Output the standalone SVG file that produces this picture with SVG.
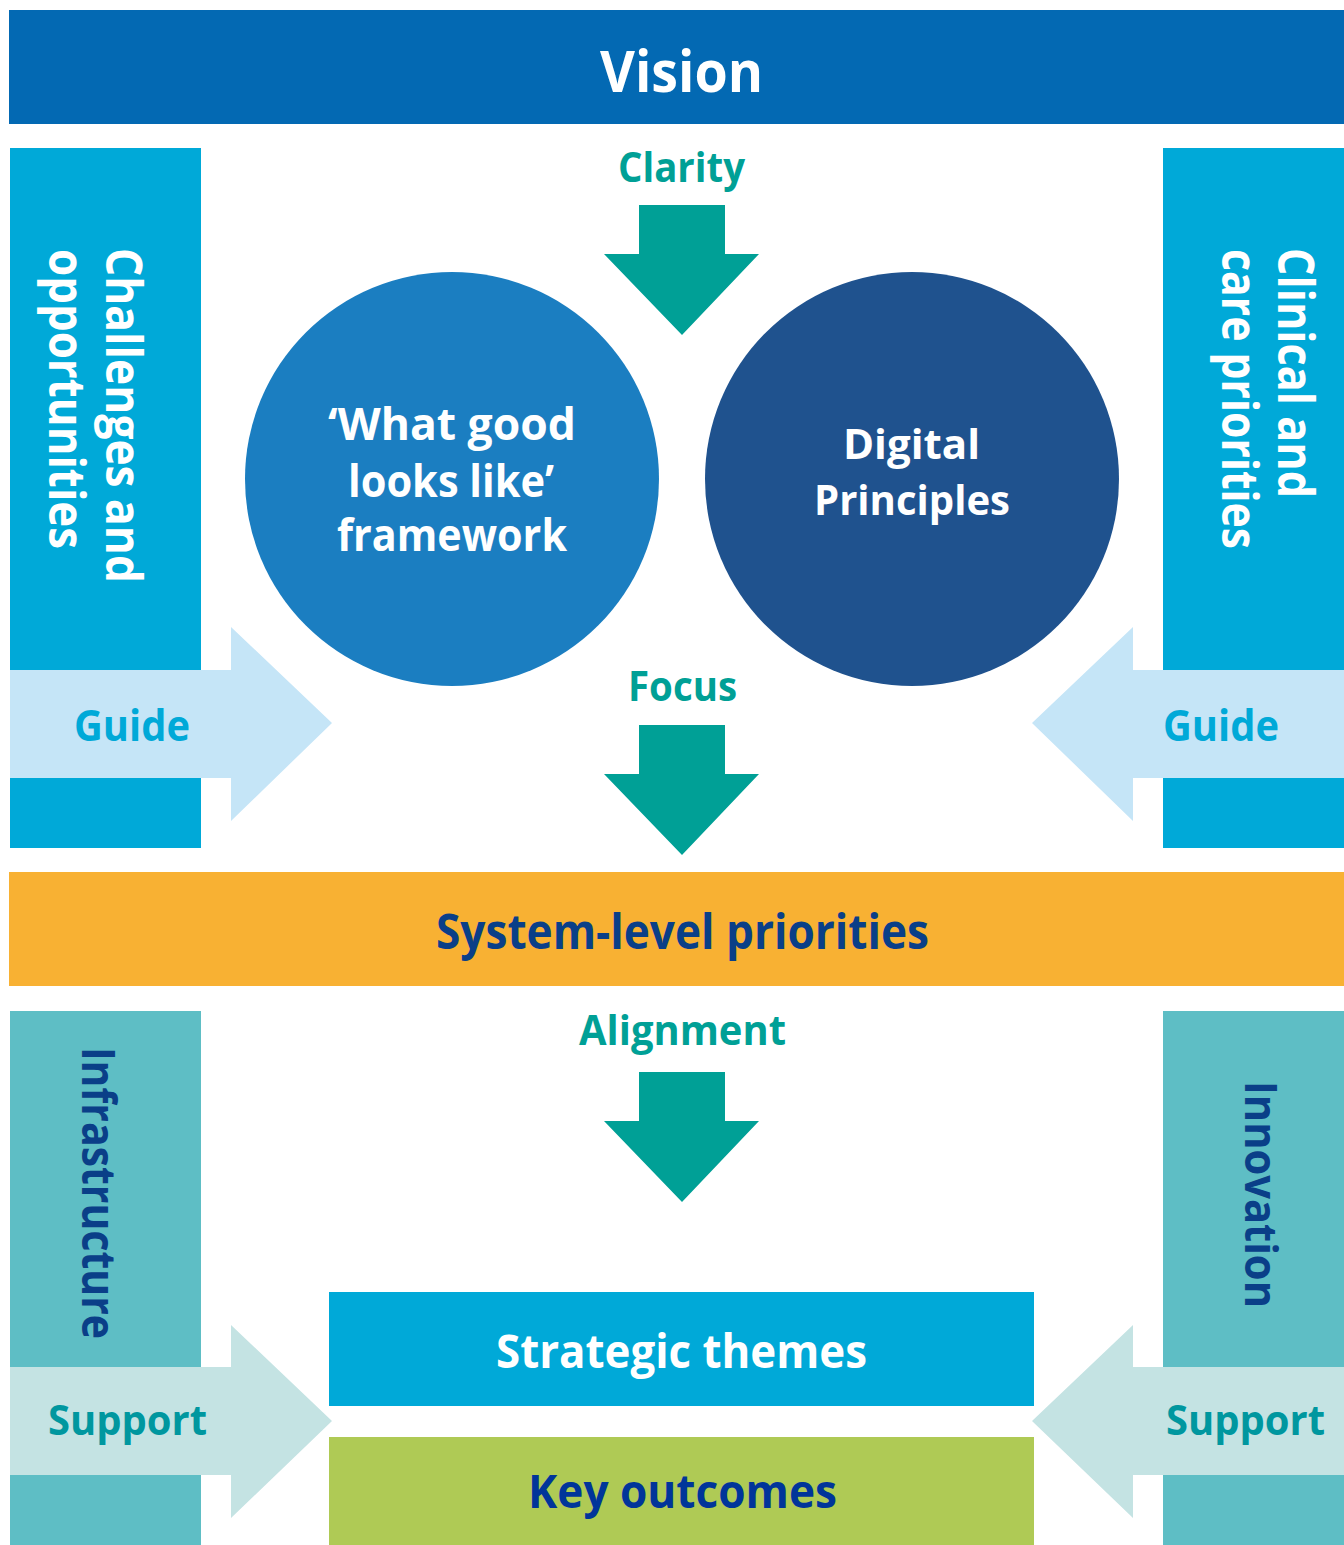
<svg xmlns="http://www.w3.org/2000/svg" width="1344" height="1545" viewBox="0 0 1344 1545">
<style>
text{font-family:"Open Sans","Noto Sans","Liberation Sans",sans-serif;font-weight:700}
.w{fill:#ffffff}
.teal{fill:#00a096}
.guide{fill:#00a9d8}
.sup{fill:#00979f}
.navy{fill:#0a3f88}
.colA{fill:#00a9d8}
.colB{fill:#5ebec5}
.arrG{fill:#c5e5f7}
.arrS{fill:#c4e3e3}
.down{fill:#00a096}
</style>
<rect width="1344" height="1545" fill="#ffffff"/>

<g id="vision">
<rect x="9" y="10" width="1335" height="114" fill="#0369b3"/>
<text class="w" x="600" y="92" font-size="58" textLength="163" lengthAdjust="spacingAndGlyphs">Vision</text>
</g>

<g id="challenges">
<rect class="colA" x="10" y="148" width="191" height="700"/>
<text class="w" font-size="50" transform="translate(106,248) rotate(90)" textLength="335" lengthAdjust="spacingAndGlyphs">Challenges and</text>
<text class="w" font-size="50" transform="translate(49,249) rotate(90)" textLength="300" lengthAdjust="spacingAndGlyphs">opportunities</text>
</g>

<g id="clinical">
<rect class="colA" x="1163" y="148" width="181" height="700"/>
<text class="w" font-size="50" transform="translate(1278,248) rotate(90)" textLength="250" lengthAdjust="spacingAndGlyphs">Clinical and</text>
<text class="w" font-size="50" transform="translate(1222,249) rotate(90)" textLength="300" lengthAdjust="spacingAndGlyphs">care priorities</text>
</g>

<g id="wgll">
<circle cx="452" cy="479" r="207" fill="#1b7ec1"/>
<text class="w" x="328" y="440" font-size="44" textLength="248" lengthAdjust="spacingAndGlyphs">‘What good</text>
<text class="w" x="348" y="497" font-size="44" textLength="206" lengthAdjust="spacingAndGlyphs">looks like’</text>
<text class="w" x="337" y="551" font-size="44" textLength="230" lengthAdjust="spacingAndGlyphs">framework</text>
</g>

<g id="digital">
<circle cx="912" cy="479" r="207" fill="#1f528e"/>
<text class="w" x="843" y="459" font-size="42" textLength="137" lengthAdjust="spacingAndGlyphs">Digital</text>
<text class="w" x="814" y="515" font-size="42" textLength="196" lengthAdjust="spacingAndGlyphs">Principles</text>
</g>

<g id="system">
<rect x="9" y="872" width="1335" height="114" fill="#f8b133"/>
<text class="navy" x="436" y="949" font-size="49" textLength="493" lengthAdjust="spacingAndGlyphs">System-level priorities</text>
</g>

<g id="infrastructure">
<rect class="colB" x="10" y="1011" width="191" height="534"/>
<text class="navy" font-size="46" transform="translate(82,1047) rotate(90)" textLength="292" lengthAdjust="spacingAndGlyphs">Infrastructure</text>
</g>

<g id="innovation">
<rect class="colB" x="1163" y="1011" width="181" height="534"/>
<text class="navy" font-size="45" transform="translate(1245,1081) rotate(90)" textLength="227" lengthAdjust="spacingAndGlyphs">Innovation</text>
</g>

<g id="strategic">
<rect x="329" y="1292" width="705" height="114" fill="#00a9d8"/>
<text class="w" x="496" y="1368" font-size="47" textLength="371" lengthAdjust="spacingAndGlyphs">Strategic themes</text>
</g>

<g id="outcomes">
<rect x="329" y="1437" width="705" height="108" fill="#afca55"/>
<text x="528" y="1508" font-size="46" fill="#00359a" textLength="309" lengthAdjust="spacingAndGlyphs">Key outcomes</text>
</g>

<g id="connectors">
<text class="teal" x="618" y="182" font-size="41" textLength="127" lengthAdjust="spacingAndGlyphs">Clarity</text>
<polygon class="down" points="639,205 725,205 725,254 759,254 682,335 604,254 639,254"/>
<text class="teal" x="628" y="701" font-size="41" textLength="109" lengthAdjust="spacingAndGlyphs">Focus</text>
<polygon class="down" points="639,725 725,725 725,774 759,774 682,855 604,774 639,774"/>
<text class="teal" x="579" y="1045" font-size="41" textLength="207" lengthAdjust="spacingAndGlyphs">Alignment</text>
<polygon class="down" points="639,1072 725,1072 725,1121 759,1121 682,1202 604,1121 639,1121"/>

<polygon class="arrG" points="10,670 231,670 231,627 332,723 231,821 231,778 10,778"/>
<text class="guide" x="74" y="741" font-size="43" textLength="116" lengthAdjust="spacingAndGlyphs">Guide</text>
<polygon class="arrG" points="1344,670 1133,670 1133,627 1032,723 1133,821 1133,778 1344,778"/>
<text class="guide" x="1163" y="741" font-size="43" textLength="116" lengthAdjust="spacingAndGlyphs">Guide</text>

<polygon class="arrS" points="10,1367 231,1367 231,1325 332,1421 231,1518 231,1475 10,1475"/>
<text class="sup" x="48" y="1435" font-size="42" textLength="159" lengthAdjust="spacingAndGlyphs">Support</text>
<polygon class="arrS" points="1344,1367 1133,1367 1133,1325 1032,1421 1133,1518 1133,1475 1344,1475"/>
<text class="sup" x="1166" y="1435" font-size="42" textLength="159" lengthAdjust="spacingAndGlyphs">Support</text>
</g>
</svg>
